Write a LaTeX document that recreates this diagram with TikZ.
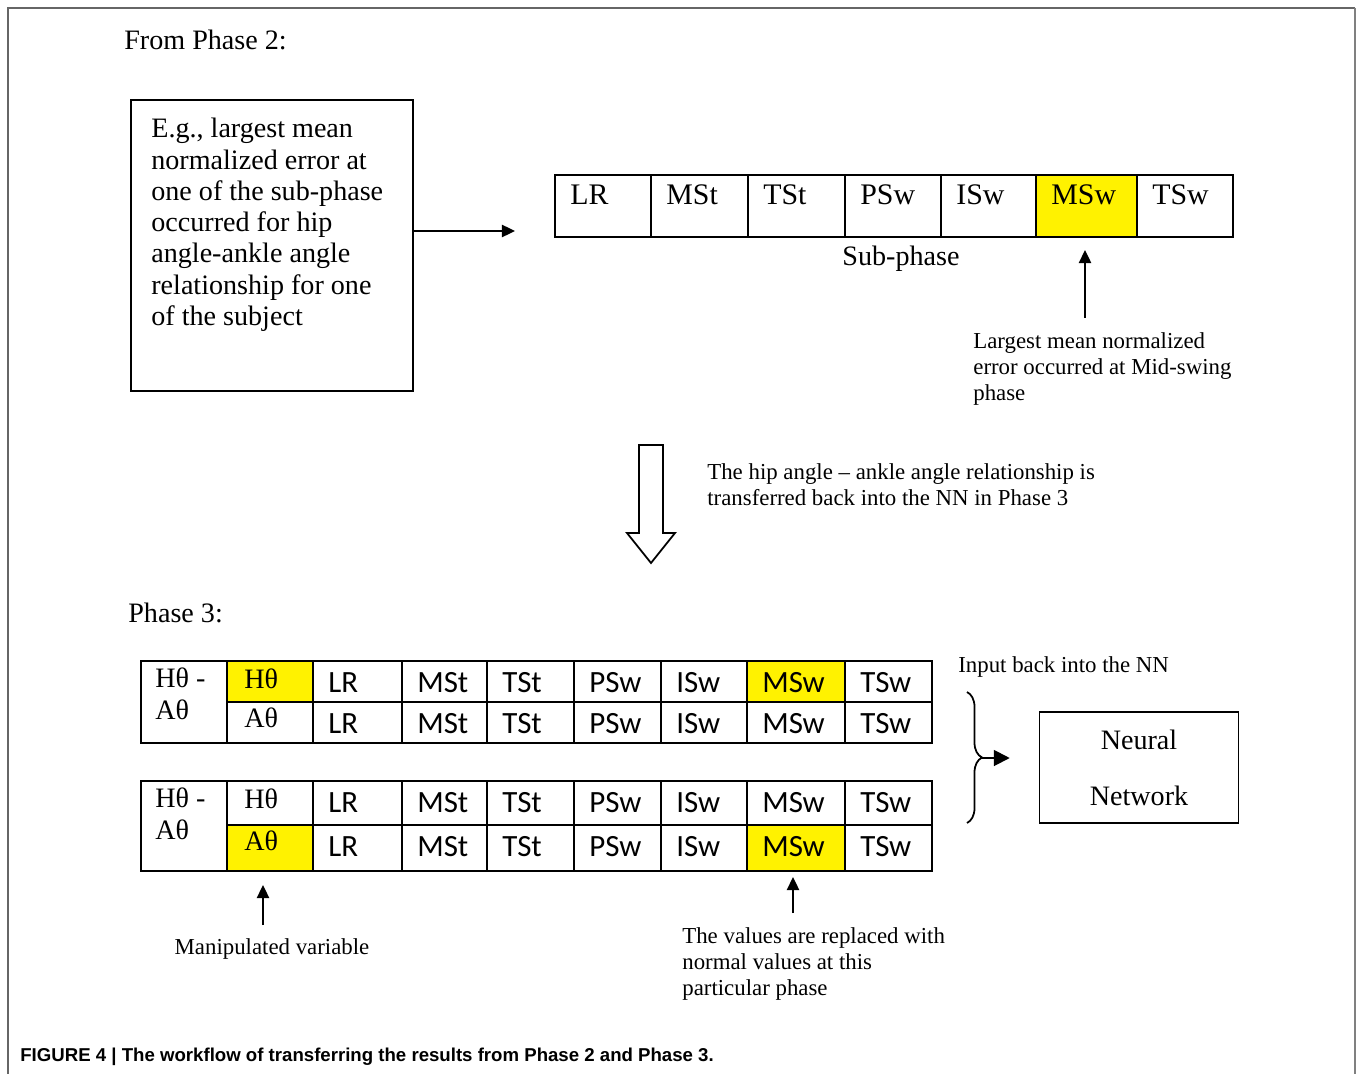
\documentclass[tikz,border=0pt]{standalone}
\usepackage{fontspec}
\setmainfont{Liberation Serif}
\newfontfamily\cellfont{Carlito}
\newfontfamily\capfont{Liberation Sans}
\usetikzlibrary{arrows.meta,decorations.pathreplacing}

\begin{document}
\begin{tikzpicture}[x=0.02cm,y=-0.02cm,
  lbl/.style={anchor=base west,inner sep=0pt},
  big/.style={font=\fontsize{16}{17.8}\selectfont},
  note/.style={font=\fontsize{13}{14.8}\selectfont},
  sans/.style={font=\cellfont\fontsize{17.6}{20}\selectfont},
  rule/.style={line width=1.1pt},
  arr/.style={line width=1.1pt,-{Triangle[length=7.5pt,width=7pt]}}]
\useasboundingbox (0,0) rectangle (1358,1074);
\draw[gray!80!black, line width=0.9pt] (8,1074) -- (8,8) -- (1355,8);
\draw[gray, line width=0.9pt] (1355,8) -- (1355,1074);

% phase 2
\node[lbl,big] (ph2) at (124,50) {From Phase 2:};
\node[draw,rule,anchor=north west,minimum width=5.64cm,minimum height=5.82cm] (egbox) at (130,99) {};
\node[anchor=north west,inner sep=0pt,big,align=left] (egtext) at (151,118) {E.g., largest mean\\normalized error at\\one of the sub-phase\\occurred for hip\\angle-ankle angle\\relationship for one\\of the subject};
\coordinate (egtip) at (515,231);
\draw[arr] (egbox.east |- egtip) -- (egtip);

\fill[yellow] (1036,175) rectangle (1137,237);
\foreach \xa/\xb/\lab [count=\i] in {555/651/LR,651/748/MSt,748/845/TSt,845/941/PSw,941/1036/ISw,1036/1137/MSw,1137/1233/TSw}{
  \draw[rule] (\xa,175) rectangle (\xb,237);
  \node[lbl,font=\fontsize{17}{20}\selectfont] (sp\i) at (\xa+15,205) {\lab};
}
\node[anchor=base,inner sep=0pt,big] (subph) at (901,266) {Sub-phase};
\coordinate (mswlo) at (1085,318);
\coordinate (mswhi) at (1085,250);
\draw[arr] (mswlo) -- (mswhi);
\node[anchor=north west,inner sep=0pt,note,align=left] (mswnote) at (973,332) {Largest mean normalized\\error occurred at Mid-swing\\phase};

% hollow arrow
\draw[line width=1pt] (639,445) -- (663,445) -- (663,533) -- (675,533) -- (651,563) -- (627,533) -- (639,533) -- cycle;
\node[anchor=north west,inner sep=0pt,note,align=left] (xfer) at (707,463) {The hip angle -- ankle angle relationship is\\transferred back into the NN in Phase 3};

% phase 3
\node[lbl,big] (ph3) at (128,622) {Phase 3:};
\fill[yellow] (227,661) rectangle (313,702);
\fill[yellow] (747,661) rectangle (845,702);
\fill[yellow] (227,825) rectangle (313,871);
\fill[yellow] (747,825) rectangle (845,871);
\foreach \tb/\yt/\ym/\yb in {a/661/702/743,b/781/825/871}{
  \draw[rule] (141,\yt) rectangle (932,\yb);
  \draw[rule] (227,\ym) -- (932,\ym);
  \foreach \xc in {227,313,402,487,574,661,747,845} \draw[rule] (\xc,\yt) -- (\xc,\yb);
  \node[lbl,big] (\tb-hl) at (155,\yt+26) {Hθ -};
  \node[lbl,big] (\tb-al) at (155,\yt+58) {Aθ};
  \node[lbl,big] (\tb-h) at (244,\yt+27) {Hθ};
  \node[lbl,big] (\tb-a) at (244,\ym+25) {Aθ};
  \foreach \xa/\lab [count=\i] in {313/LR,402/MSt,487/TSt,574/PSw,661/ISw,747/MSw,845/TSw}{
    \node[lbl,sans] (\tb-t\i) at (\xa+15,\yt+31) {\lab};
    \node[lbl,sans] (\tb-u\i) at (\xa+15,\ym+31) {\lab};
  }
}

\node[lbl,note] (inlab) at (958,672) {Input back into the NN};
\node[draw,line width=0.9pt,minimum width=3.98cm,minimum height=2.22cm,align=center,big] (nn) at (1139,767.5) {Neural\\[14pt]Network};
\coordinate (brt) at (967,692);
\coordinate (brb) at (967,823);
\draw[line width=1pt,decorate,decoration={brace,amplitude=0.3cm}] (brt) -- (brb);
\coordinate (brtip) at (982,758);
\draw[line width=1.1pt,-{Triangle[length=9pt,width=9pt]},shorten >=0.58cm] (brtip) -- (nn.west |- brtip);

\coordinate (mvlo) at (263,925);
\coordinate (mvhi) at (263,885);
\draw[arr] (mvlo) -- (mvhi);
\node[anchor=base,inner sep=0pt,note] (mvlab) at (272,954) {Manipulated variable};
\coordinate (rvlo) at (793,913);
\coordinate (rvhi) at (793,877);
\draw[arr] (rvlo) -- (rvhi);
\node[anchor=north west,inner sep=0pt,note,align=left] (rvlab) at (682,927) {The values are replaced with\\normal values at this\\particular phase};

\node[lbl,font=\capfont\bfseries\fontsize{10.6}{12}\selectfont] (cap) at (20,1061) {FIGURE 4 | The workflow of transferring the results from Phase 2 and Phase 3.};
\end{tikzpicture}
\end{document}
